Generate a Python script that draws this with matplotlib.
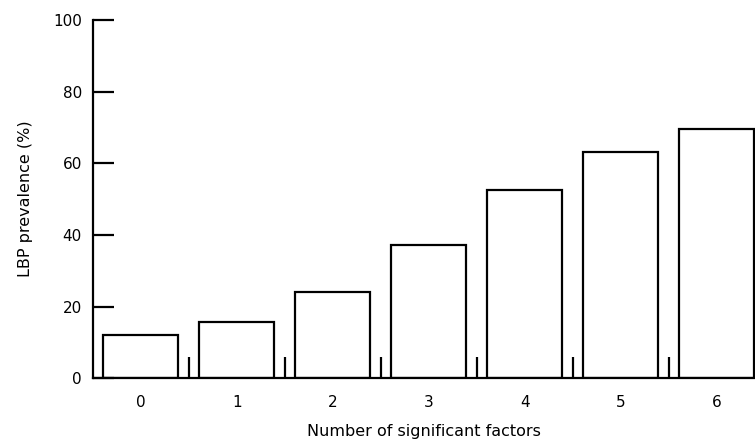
import matplotlib
matplotlib.use('Agg')
import numpy as np
from matplotlib import pyplot as plt

# number of significant factors vs LBP prevalence
factors = ['0', '1', '2', '3', '4', '5', '6']
prevalence = [12.0, 15.6, 24.1, 37.2, 52.5, 63.2, 69.6]
yticks = [0, 20, 40, 60, 80, 100]

plt.rcParams['font.family'] = ['DejaVu Sans']

fig = plt.figure(figsize=(7.55, 4.46), dpi=100)
ax = fig.add_axes([0.123, 0.152, 0.877, 0.803])

x = np.arange(len(factors))
ax.bar(x, prevalence, width=0.78, facecolor='white', edgecolor='black', linewidth=1.6)

ax.set_xlim(-0.5, 6.4)
ax.set_ylim(0, 100)

# boundary ticks between bars, labels at bar centres
ax.set_xticks(x[:-1] + 0.5)
ax.set_xticklabels([])
ax.set_xticks(x, minor=True)
ax.set_xticklabels(factors, minor=True, fontsize=11)
ax.tick_params(axis='x', which='major', direction='in', length=15, width=1.6)
ax.tick_params(axis='x', which='minor', length=0, pad=12)

ax.set_yticks(yticks)
ax.tick_params(axis='y', direction='in', length=15, width=1.6, labelsize=11, pad=8)

for side in ['top', 'right']:
    ax.spines[side].set_visible(False)
for side in ['left', 'bottom']:
    ax.spines[side].set_linewidth(1.6)

ax.set_xlabel('Number of significant factors', fontsize=11.5, labelpad=10)
ax.set_ylabel('LBP prevalence (%)', fontsize=11.5, labelpad=14)

fig.savefig('out.png', dpi=100)
